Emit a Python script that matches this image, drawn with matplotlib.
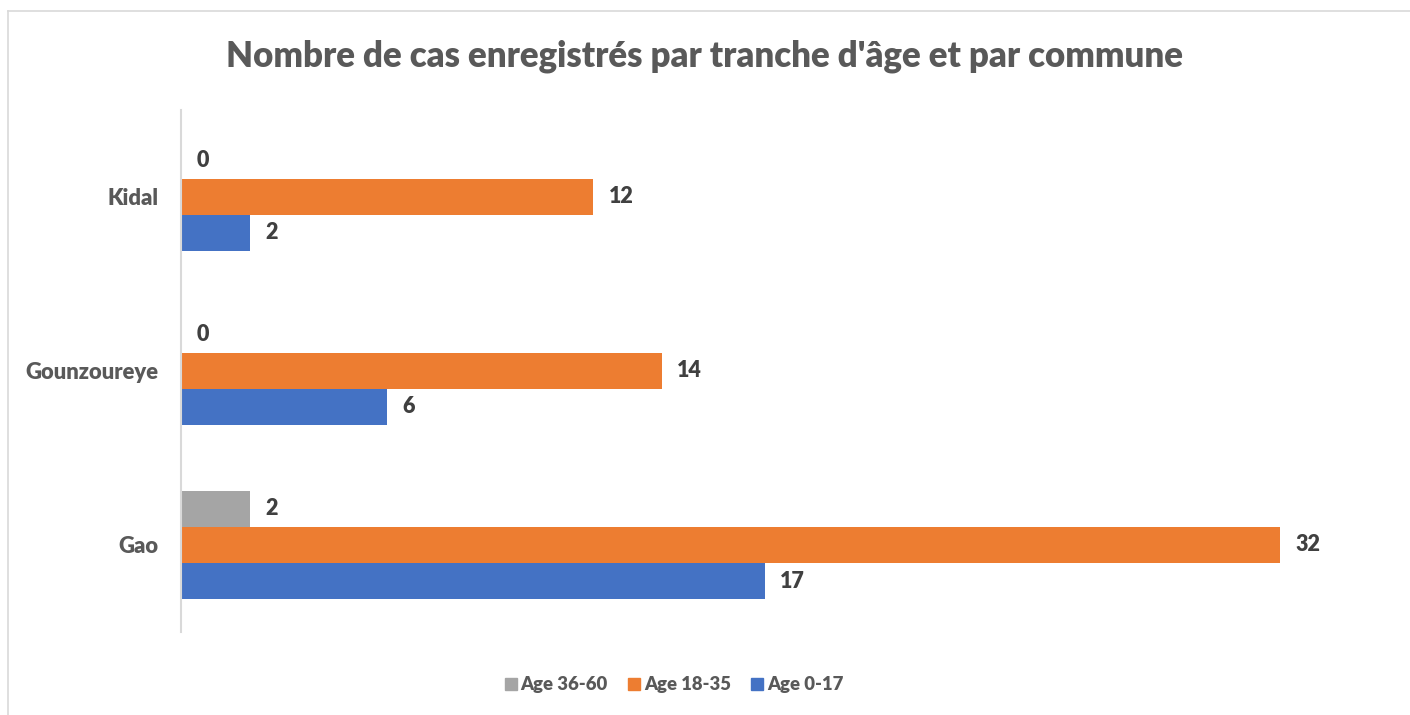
import matplotlib.pyplot as plt
import matplotlib.patches as mpatches
from matplotlib.lines import Line2D

communes = ['Gao', 'Gounzoureye', 'Kidal']
age_0_17 = [17, 6, 2]
age_18_35 = [32, 14, 12]
age_36_60 = [2, 0, 0]
series_names = ['Age 0-17', 'Age 18-35', 'Age 36-60']

c_blue = '#4472C4'
c_orange = '#ED7D31'
c_gray = '#A5A5A5'

plt.rcParams['font.family'] = ['Lato', 'DejaVu Sans']
W = 800  # heavy weight, closer to Calibri bold

fig = plt.figure(figsize=(14.1, 7.15), dpi=100, facecolor='white')
ax = fig.add_axes([0.1284, 0.1161, 0.8525, 0.7301])

h = 0.207
ys = range(len(communes))
series = [(age_0_17, c_blue, -h), (age_18_35, c_orange, 0), (age_36_60, c_gray, h)]
for vals, col, off in series:
    pos = [y + off for y in ys]
    ax.barh(pos, vals, height=h, color=col)
    for p, v in zip(pos, vals):
        ax.annotate(str(v), (v, p), xytext=(11, 0), textcoords='offset points',
                    ha='left', va='center', fontsize=15.5, fontweight=W, color='#404040')

ax.set_xlim(0, 35)
ax.set_ylim(-0.5, 2.5)
ax.set_yticks(list(ys))
ax.set_yticklabels(communes, fontsize=15.8, fontweight=W, color='#595959')
ax.tick_params(axis='y', length=0, pad=16)
ax.set_xticks([])
for s in ['top', 'right', 'bottom']:
    ax.spines[s].set_visible(False)
ax.spines['left'].set_color('#D9D9D9')
ax.spines['left'].set_linewidth(1.5)

fig.text(0.5, 0.921, "Nombre de cas enregistrés par tranche d'âge et par commune",
         ha='center', va='center', fontsize=25, fontweight=W, color='#595959')

handles = [mpatches.Patch(color=c_gray, label=series_names[2]),
           mpatches.Patch(color=c_orange, label=series_names[1]),
           mpatches.Patch(color=c_blue, label=series_names[0])]
fig.legend(handles=handles, loc='center', bbox_to_anchor=(0.478, 0.042), ncol=3, frameon=False,
           prop={'size': 13.3, 'weight': W}, labelcolor='#595959',
           handlelength=0.65, handleheight=0.65, handletextpad=0.2, columnspacing=1.1)

# chart area border (top and left visible)
fig.add_artist(Line2D([8 / 1410, 1.0], [1 - 11 / 715, 1 - 11 / 715], color='#D9D9D9', lw=1.2,
                      transform=fig.transFigure))
fig.add_artist(Line2D([8 / 1410, 8 / 1410], [0, 1 - 11 / 715], color='#D9D9D9', lw=1.2,
                      transform=fig.transFigure))

fig.savefig('out.png', dpi=100, facecolor='white')
